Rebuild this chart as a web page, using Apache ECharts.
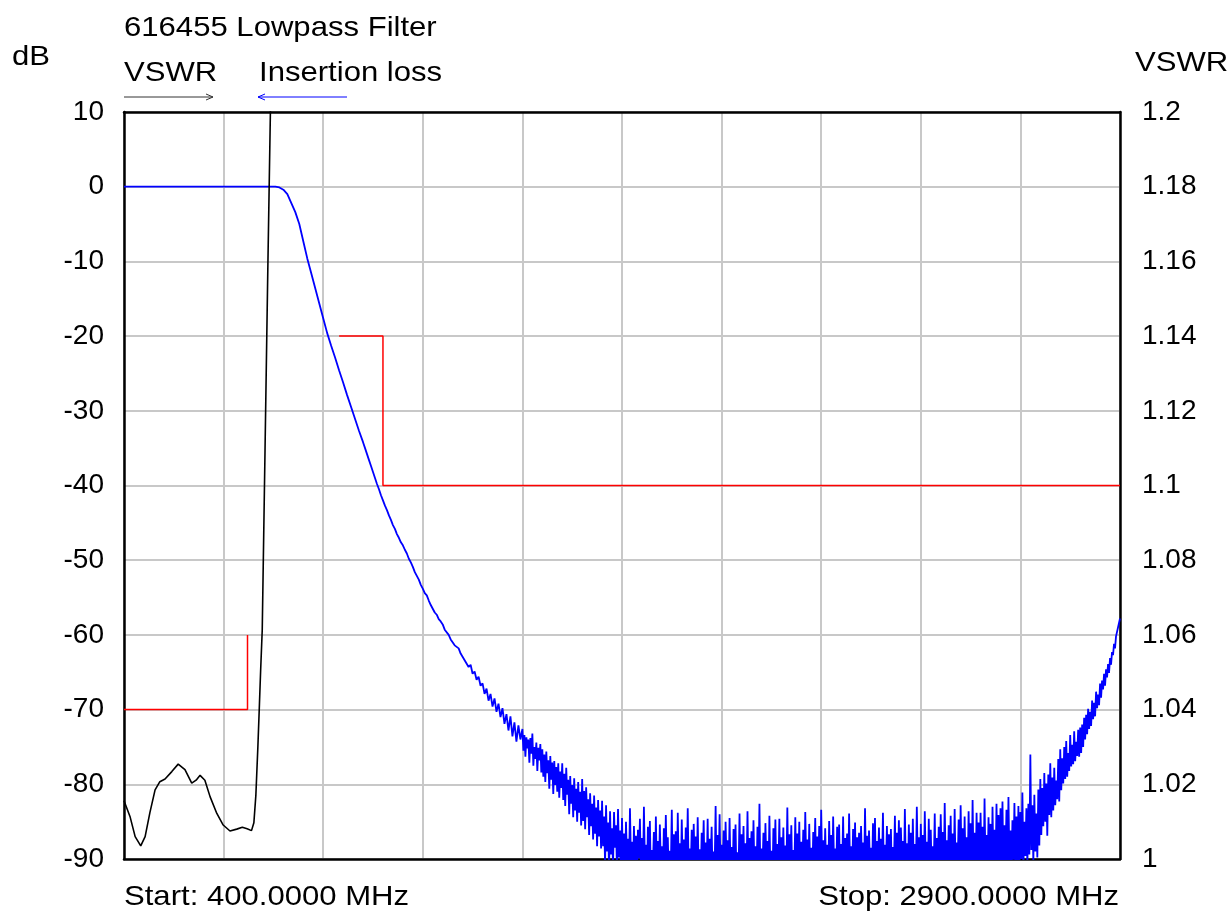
<!DOCTYPE html>
<html>
<head>
<meta charset="utf-8">
<script src="https://cdn.jsdelivr.net/npm/echarts@6/dist/echarts.min.js"></script>
<style>
html, body { margin: 0; background: #fff; }
#container { width: 1231px; height: 913px; }
</style>
</head>
<body>
<div id="container"></div>
<script>
// sweep range (MHz) and axis ranges
const sweepStart = 400, sweepStop = 2900;
const dbMin = -90, dbMax = 10, dbStep = 10;
const vswrMin = 1, vswrMax = 1.2, vswrStep = 0.02;

// insertion loss, passband and skirt
const ilSweepFreq = [400, 500, 600, 700, 760, 780, 790, 800, 810, 820, 830, 840, 850, 860, 870, 880, 890, 900, 910, 920, 930, 940, 950, 960, 970, 980, 990];
const ilSweepDb   = [0, 0, 0, 0, 0, 0, -0.1, -0.4, -1.0, -2.2, -3.4, -5.0, -7.3, -9.6, -11.6, -13.6, -15.6, -17.6, -19.6, -21.3, -22.9, -24.6, -26.2, -27.9, -29.5, -31.1, -32.7];

// insertion loss 1000..1395 MHz, every 5 MHz
const ilRollStart = 1000, ilRollStep = 5;
const ilRollDb = [
  -34.2, -35.0, -35.8, -36.6, -37.4, -38.2, -39.0, -39.8, -40.5, -41.3,
  -42.0, -42.7, -43.3, -44.0, -44.6, -45.3, -45.8, -46.5, -47.0, -47.6,
  -48.0, -48.6, -49.1, -49.8, -50.3, -50.9, -51.6, -52.1, -52.6, -53.3,
  -53.8, -54.4, -54.7, -55.4, -56.0, -56.2, -57.0, -57.3, -57.9, -58.2,
  -58.6, -59.3, -59.4, -60.0, -60.6, -60.5, -61.4, -61.6, -61.8, -62.5,
  -62.7, -63.4, -63.3, -64.3, -64.0, -65.2, -64.9, -66.0, -65.6, -66.8,
  -66.5, -67.9, -67.2, -68.8, -67.9, -69.6, -68.5, -70.3, -69.2, -71.0,
  -69.8, -71.9, -70.6, -72.8, -70.9, -73.6, -71.7, -74.3, -72.1, -74.0
];

// insertion loss 1400..2900 MHz, every 2.5 MHz (noise floor)
const ilFloorStart = 1400, ilFloorStep = 2.5;
const ilFloorDb = [
  -72.6, -75.5, -73.4, -76.3, -73.7, -75.2, -74.0, -77.1, -73.8, -75.9, -73.2, -77.5, -75.0, -76.6, -74.4, -78.2, -75.1, -76.8, -74.6, -78.4,
  -75.3, -79.0, -76.0, -79.7, -75.6, -78.5, -76.8, -80.6, -76.2, -79.4, -77.1, -81.3, -76.9, -80.1, -77.7, -81.0, -77.2, -81.8, -78.3, -80.5,
  -77.2, -82.1, -78.6, -82.9, -77.8, -81.4, -79.4, -84.0, -78.9, -82.6, -80.1, -84.4, -79.2, -83.5, -80.6, -85.0, -79.7, -83.8, -81.0, -85.5,
  -79.3, -84.9, -80.9, -86.0, -80.4, -84.4, -82.0, -86.8, -81.2, -85.6, -82.6, -87.4, -81.5, -86.6, -83.1, -88.3, -82.1, -87.0, -83.5, -88.6,
  -82.2, -88.3, -84.3, -90.7, -82.8, -89.0, -85.1, -91.6, -83.6, -89.4, -85.9, -91.1, -83.7, -88.5, -85.5, -91.9, -83.3, -89.8, -86.2, -92.4,
  -84.5, -91.0, -86.6, -92.7, -85.0, -90.2, -87.3, -91.8, -83.2, -90.5, -87.7, -93.2, -85.6, -91.4, -86.9, -93.5, -86.1, -89.9, -84.6, -92.1,
  -87.2, -92.8, -83.0, -90.6, -88.1, -93.4, -85.7, -91.5, -84.9, -93.0, -88.8, -90.9, -86.4, -93.7, -84.3, -92.2, -87.6, -92.5, -85.4, -90.8,
  -88.3, -93.6, -85.9, -91.9, -84.1, -91.3, -87.1, -93.1, -88.9, -91.6, -83.4, -93.8, -86.7, -90.7, -86.3, -92.6, -83.8, -92.0, -87.9, -93.3,
  -84.7, -91.4, -87.4, -93.5, -85.8, -91.1, -83.2, -92.4, -88.6, -91.7, -86.1, -93.9, -85.3, -91.2, -87.0, -92.8, -84.4, -92.3, -88.7, -93.0,
  -86.5, -90.6, -84.8, -93.2, -87.8, -91.8, -84.6, -93.4, -87.3, -91.0, -85.7, -92.7, -89.0, -91.5, -82.9, -93.7, -86.8, -91.3, -84.0, -92.5,
  -88.1, -92.1, -86.2, -93.6, -85.0, -90.8, -87.5, -92.9, -84.5, -91.6, -88.4, -93.4, -86.0, -91.0, -85.4, -93.3, -89.1, -91.9, -83.9, -92.6,
  -86.7, -91.2, -85.6, -93.8, -87.9, -92.2, -83.6, -92.4, -87.2, -90.7, -86.3, -93.5, -84.8, -92.0, -88.3, -93.1, -85.7, -91.3, -82.6, -92.8,
  -88.6, -91.7, -86.5, -93.4, -85.2, -90.9, -87.6, -93.0, -84.2, -91.8, -88.9, -93.7, -85.9, -91.1, -84.7, -92.7, -88.0, -91.4, -84.6, -93.2,
  -87.1, -91.0, -85.8, -93.6, -88.2, -92.3, -83.1, -92.5, -86.7, -90.8, -85.5, -93.4, -88.8, -91.9, -84.4, -92.9, -86.6, -91.2, -85.0, -93.8,
  -87.7, -91.6, -86.1, -93.3, -83.7, -90.7, -87.4, -92.8, -85.3, -92.1, -88.5, -93.5, -86.4, -90.9, -84.5, -93.0, -87.0, -91.5, -85.6, -93.7,
  -83.4, -91.3, -87.5, -92.6, -85.9, -91.8, -88.1, -93.4, -84.9, -91.0, -86.8, -93.2, -84.3, -91.7, -88.6, -92.4, -85.7, -91.1, -85.4, -93.6,
  -88.0, -92.0, -84.3, -93.1, -87.2, -90.8, -86.6, -93.5, -83.9, -91.4, -88.3, -92.7, -86.0, -91.2, -85.1, -93.3, -87.1, -91.9, -86.5, -93.4,
  -85.6, -91.0, -87.8, -92.8, -83.2, -91.6, -86.9, -93.7, -86.2, -91.3, -88.5, -92.5, -85.2, -92.2, -84.5, -93.4, -87.6, -90.9, -85.8, -93.0,
  -87.3, -91.5, -83.8, -93.2, -88.1, -91.1, -85.6, -93.6, -86.7, -91.8, -86.0, -92.9, -88.4, -91.3, -84.2, -93.5, -86.5, -92.0, -84.8, -92.6,
  -85.8, -90.8, -87.6, -93.3, -83.3, -91.7, -87.9, -93.4, -85.4, -91.2, -86.5, -93.0, -84.6, -91.9, -88.0, -92.6, -83.0, -91.0, -87.1, -93.6,
  -85.3, -91.4, -86.8, -92.8, -83.6, -90.9, -87.7, -93.5, -84.6, -92.1, -86.1, -92.4, -88.3, -91.3, -83.9, -93.2, -87.2, -91.6, -85.7, -92.9,
  -84.0, -90.7, -86.4, -93.1, -82.5, -91.5, -87.5, -92.6, -85.5, -91.0, -84.2, -93.4, -86.6, -91.8, -83.3, -92.7, -87.8, -91.2, -84.7, -92.4,
  -82.8, -91.3, -85.9, -92.9, -84.3, -91.6, -87.1, -92.4, -83.6, -90.8, -85.2, -93.2, -82.1, -91.4, -86.5, -92.7, -83.8, -91.1, -85.1, -92.2,
  -83.8, -90.6, -85.7, -92.8, -81.9, -91.4, -86.8, -92.1, -84.4, -90.9, -85.3, -93.0, -83.0, -91.3, -86.1, -91.9, -82.6, -90.5, -84.1, -92.5,
  -83.2, -91.0, -82.3, -92.2, -85.5, -90.3, -83.4, -91.6, -81.7, -90.7, -86.2, -91.9, -84.8, -90.1, -82.5, -91.4, -84.3, -90.8, -82.9, -91.7,
  -83.7, -90.0, -81.1, -91.2, -85.0, -89.6, -83.2, -90.9, -82.6, -89.4, -76.0, -88.8, -82.8, -90.5, -81.4, -89.0, -83.9, -89.8, -80.7, -88.2,
  -79.3, -86.8, -80.5, -85.6, -78.5, -85.0, -79.9, -86.9, -78.7, -84.1, -77.2, -84.4, -79.1, -83.5, -77.8, -82.8, -79.5, -82.0, -76.6, -82.3,
  -75.3, -80.8, -76.5, -79.9, -75.0, -79.3, -74.2, -79.0, -75.8, -78.2, -73.4, -77.6, -74.7, -77.3, -72.9, -76.9, -74.3, -76.2, -72.7, -76.3,
  -72.4, -75.8, -72.0, -75.0, -71.1, -74.0, -70.7, -73.3, -69.9, -72.6, -70.3, -72.2, -68.8, -71.3, -69.1, -70.9, -67.6, -69.8, -68.0, -69.4,
  -66.5, -68.4, -66.1, -67.3, -65.2, -66.8, -64.6, -65.7, -63.9, -65.1, -63.1, -64.0, -62.3, -62.7, -61.2, -61.8, -60.2, -60.2, -59.0, -59.0,
  -57.8
];

// VSWR (right axis)
const vswrFreq  = [400, 415, 428, 442, 453, 465, 478, 490, 503, 520, 536, 553, 570, 581, 591, 603, 616, 633, 649, 666, 683, 697, 709, 720, 726, 731, 736, 740, 743, 747, 754, 761, 769];
const vswrValue = [1.0156, 1.0114, 1.0060, 1.0035, 1.0060, 1.0124, 1.0185, 1.0207, 1.0214, 1.0234, 1.0254, 1.0239, 1.0203, 1.0211, 1.0224, 1.0211, 1.0167, 1.0122, 1.0091, 1.0075, 1.0080, 1.0085, 1.0081, 1.0076, 1.0097, 1.0171, 1.0300, 1.0416, 1.0506, 1.0614, 1.1096, 1.1580, 1.2100];

// spec mask (dB)
const maskLowFreq  = [400, 710, 710];
const maskLowDb    = [-70, -70, -60];
const maskHighFreq = [940, 1050, 1050, 2900];
const maskHighDb   = [-20, -20, -40, -40];

const FONT = '"Liberation Sans", Arial, sans-serif';
const pair = (xs, ys) => xs.map((x, i) => [x, ys[i]]);

var ilData = pair(ilSweepFreq, ilSweepDb);
ilRollDb.forEach((v, i) => ilData.push([ilRollStart + i * ilRollStep, v]));
ilFloorDb.forEach((v, i) => ilData.push([ilFloorStart + i * ilFloorStep, v]));

var dom = document.getElementById('container');
var myChart = echarts.init(dom, null, { renderer: 'canvas' });

// stretched text, the original lettering is wider than Arial
function label(text, x, y, align, color) {
    return {
        type: 'text', x: x, y: y, scaleX: 1.11,
        style: {
            text: text, font: '28px ' + FONT, fill: color || '#000',
            textAlign: align || 'left', textVerticalAlign: 'middle'
        }
    };
}
function arrow(x1, x2, y, color) {
    var d = x2 > x1 ? -7 : 7;
    return {
        type: 'group', children: [
            { type: 'line', shape: { x1: x1, y1: y, x2: x2, y2: y }, style: { stroke: color, lineWidth: 1 } },
            { type: 'polyline', shape: { points: [[x2 + d, y - 3], [x2, y], [x2 + d, y + 3]] }, style: { stroke: color, lineWidth: 1, fill: null } }
        ]
    };
}

var gridColor = '#c8c8c8';
var frame = { show: true, onZero: false, lineStyle: { color: '#000', width: 2.5 } };

var option = {
    animation: false,
    backgroundColor: '#fff',
    grid: { left: 124, right: 111, top: 112, bottom: 54 },
    xAxis: [
        {
            type: 'value', min: sweepStart, max: sweepStop, position: 'bottom',
            axisLine: frame, axisTick: { show: false }, axisLabel: { show: false }, splitLine: { show: false }
        },
        {
            // offset scale only used for the vertical grid lines (every 250 MHz from start)
            type: 'value', min: 0, max: sweepStop - sweepStart, interval: 250, position: 'top',
            axisLine: frame, axisTick: { show: false }, axisLabel: { show: false },
            splitLine: { show: true, lineStyle: { color: gridColor, width: 2 } }
        }
    ],
    yAxis: [
        {
            type: 'value', min: dbMin, max: dbMax, interval: dbStep, position: 'left',
            axisLine: frame, axisTick: { show: false },
            axisLabel: { color: '#000', fontSize: 28, fontFamily: FONT, margin: 20 },
            splitLine: { show: true, lineStyle: { color: gridColor, width: 2 } }
        },
        {
            type: 'value', min: vswrMin, max: vswrMax, interval: vswrStep, position: 'right',
            axisLine: frame, axisTick: { show: false },
            axisLabel: { color: '#000', fontSize: 28, fontFamily: FONT, margin: 22,
                formatter: v => String(+v.toFixed(2)) },
            splitLine: { show: false }
        }
    ],
    series: [
        {
            name: 'Insertion loss', type: 'line', xAxisIndex: 0, yAxisIndex: 0,
            data: ilData, showSymbol: false, clip: true,
            lineStyle: { color: '#0000ff', width: 1.8 }
        },
        {
            name: 'mask low', type: 'line', xAxisIndex: 0, yAxisIndex: 0,
            data: pair(maskLowFreq, maskLowDb), showSymbol: false,
            lineStyle: { color: '#ff0000', width: 1.5 }
        },
        {
            name: 'mask high', type: 'line', xAxisIndex: 0, yAxisIndex: 0,
            data: pair(maskHighFreq, maskHighDb), showSymbol: false,
            lineStyle: { color: '#ff0000', width: 1.5 }
        },
        {
            name: 'VSWR', type: 'line', xAxisIndex: 0, yAxisIndex: 1,
            data: pair(vswrFreq, vswrValue), showSymbol: false, clip: true,
            lineStyle: { color: '#000', width: 1.6 }
        }
    ],
    graphic: [
        label('616455 Lowpass Filter', 124, 28),
        label('dB', 12, 57),
        label('VSWR', 124, 73),
        label('Insertion loss', 259, 73),
        label('VSWR', 1135, 63),
        label('Start: 400.0000 MHz', 124, 897),
        label('Stop: 2900.0000 MHz', 1119, 897, 'right'),
        arrow(124, 213, 97, '#333'),
        arrow(347, 258, 97, '#0000ff')
    ]
};
myChart.setOption(option, true);
</script>
</body>
</html>
